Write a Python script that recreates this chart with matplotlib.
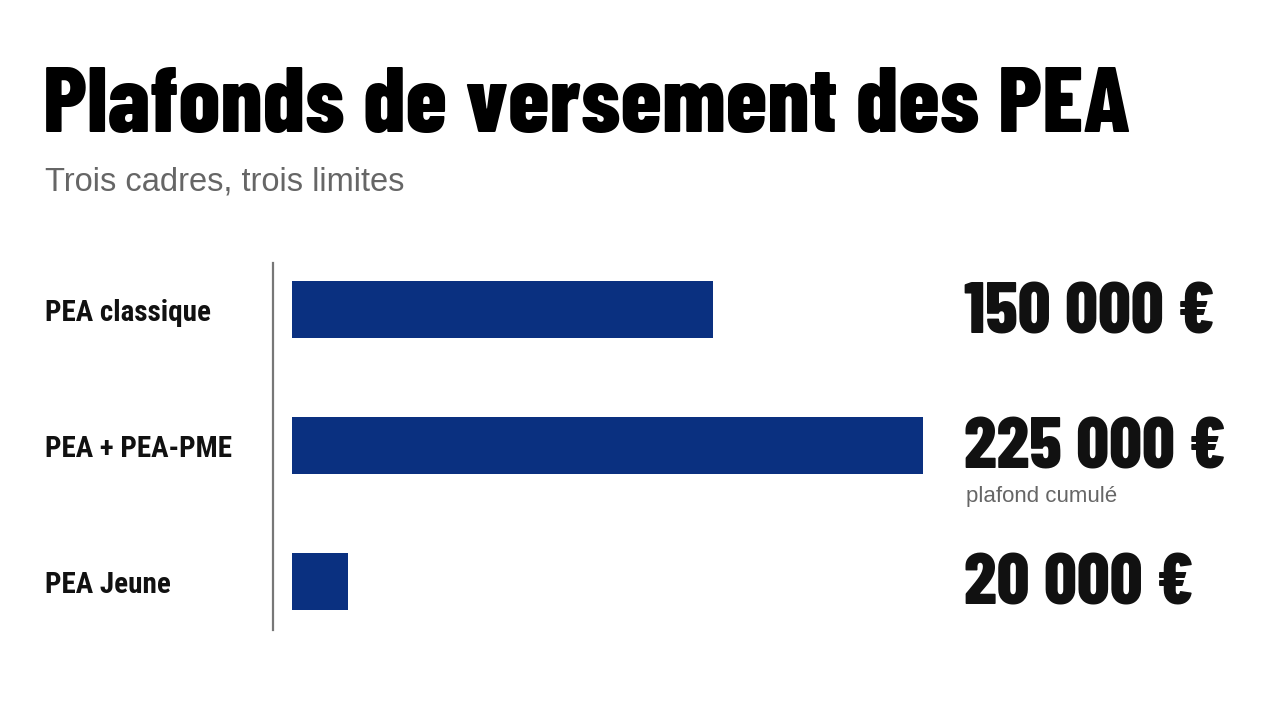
import matplotlib.pyplot as plt
import matplotlib.transforms as mtransforms

categories = ["PEA classique", "PEA + PEA-PME", "PEA Jeune"]
values = [150000, 225000, 20000]
value_labels = ["150 000 €", "225 000 €", "20 000 €"]
notes = ["", "plafond cumulé", ""]

title = "Plafonds de versement des PEA"
subtitle = "Trois cadres, trois limites"

BAR = "#0a3080"
TITLE_FONT = ["Barlow Condensed", "DejaVu Sans"]
VALUE_FONT = ["Barlow Condensed", "DejaVu Sans"]
LABEL_FONT = ["Roboto Condensed", "DejaVu Sans"]
PLAIN = ["Liberation Sans", "DejaVu Sans"]

fig = plt.figure(figsize=(12.8, 7.02), dpi=100)
fig.patch.set_facecolor("white")

ax = fig.add_axes([292 / 1280, 72 / 702, 631 / 1280, 367 / 702])
ax.barh(range(len(values)), values, height=0.42, color=BAR)
ax.set_xlim(0, max(values))
ax.set_ylim(2.36, -0.34)

for s in ["top", "right", "bottom"]:
    ax.spines[s].set_visible(False)
ax.spines["left"].set_position(("outward", 13.7))
ax.spines["left"].set_color("#777777")
ax.spines["left"].set_linewidth(1.6)
ax.set_xticks([])
ax.set_yticks([])
ax.patch.set_alpha(0)

# labels left (figure x, data y) and values right
tr = mtransforms.blended_transform_factory(fig.transFigure, ax.transData)
for i, (cat, lab, note) in enumerate(zip(categories, value_labels, notes)):
    fig.text(45 / 1280, i + 0.085, cat, transform=tr, family=LABEL_FONT,
             weight="bold", fontsize=21, va="baseline", ha="left", color="#111111")
    fig.text(964 / 1280, i + 0.175, lab, transform=tr, family=VALUE_FONT,
             weight=800, fontsize=52, va="baseline", ha="left", color="#111111")
    if note:
        fig.text(966 / 1280, i + 0.42, note, transform=tr, family=PLAIN,
                 fontsize=16, va="baseline", ha="left", color="#666666")

fig.text(43 / 1280, 1 - 132 / 702, title, family=TITLE_FONT, weight=800,
         fontsize=67, va="baseline", ha="left", color="#000000")
fig.text(45 / 1280, 1 - 190 / 702, subtitle, family=PLAIN,
         fontsize=23.5, va="baseline", ha="left", color="#666666")

fig.savefig("out.png", dpi=100, facecolor="white")
